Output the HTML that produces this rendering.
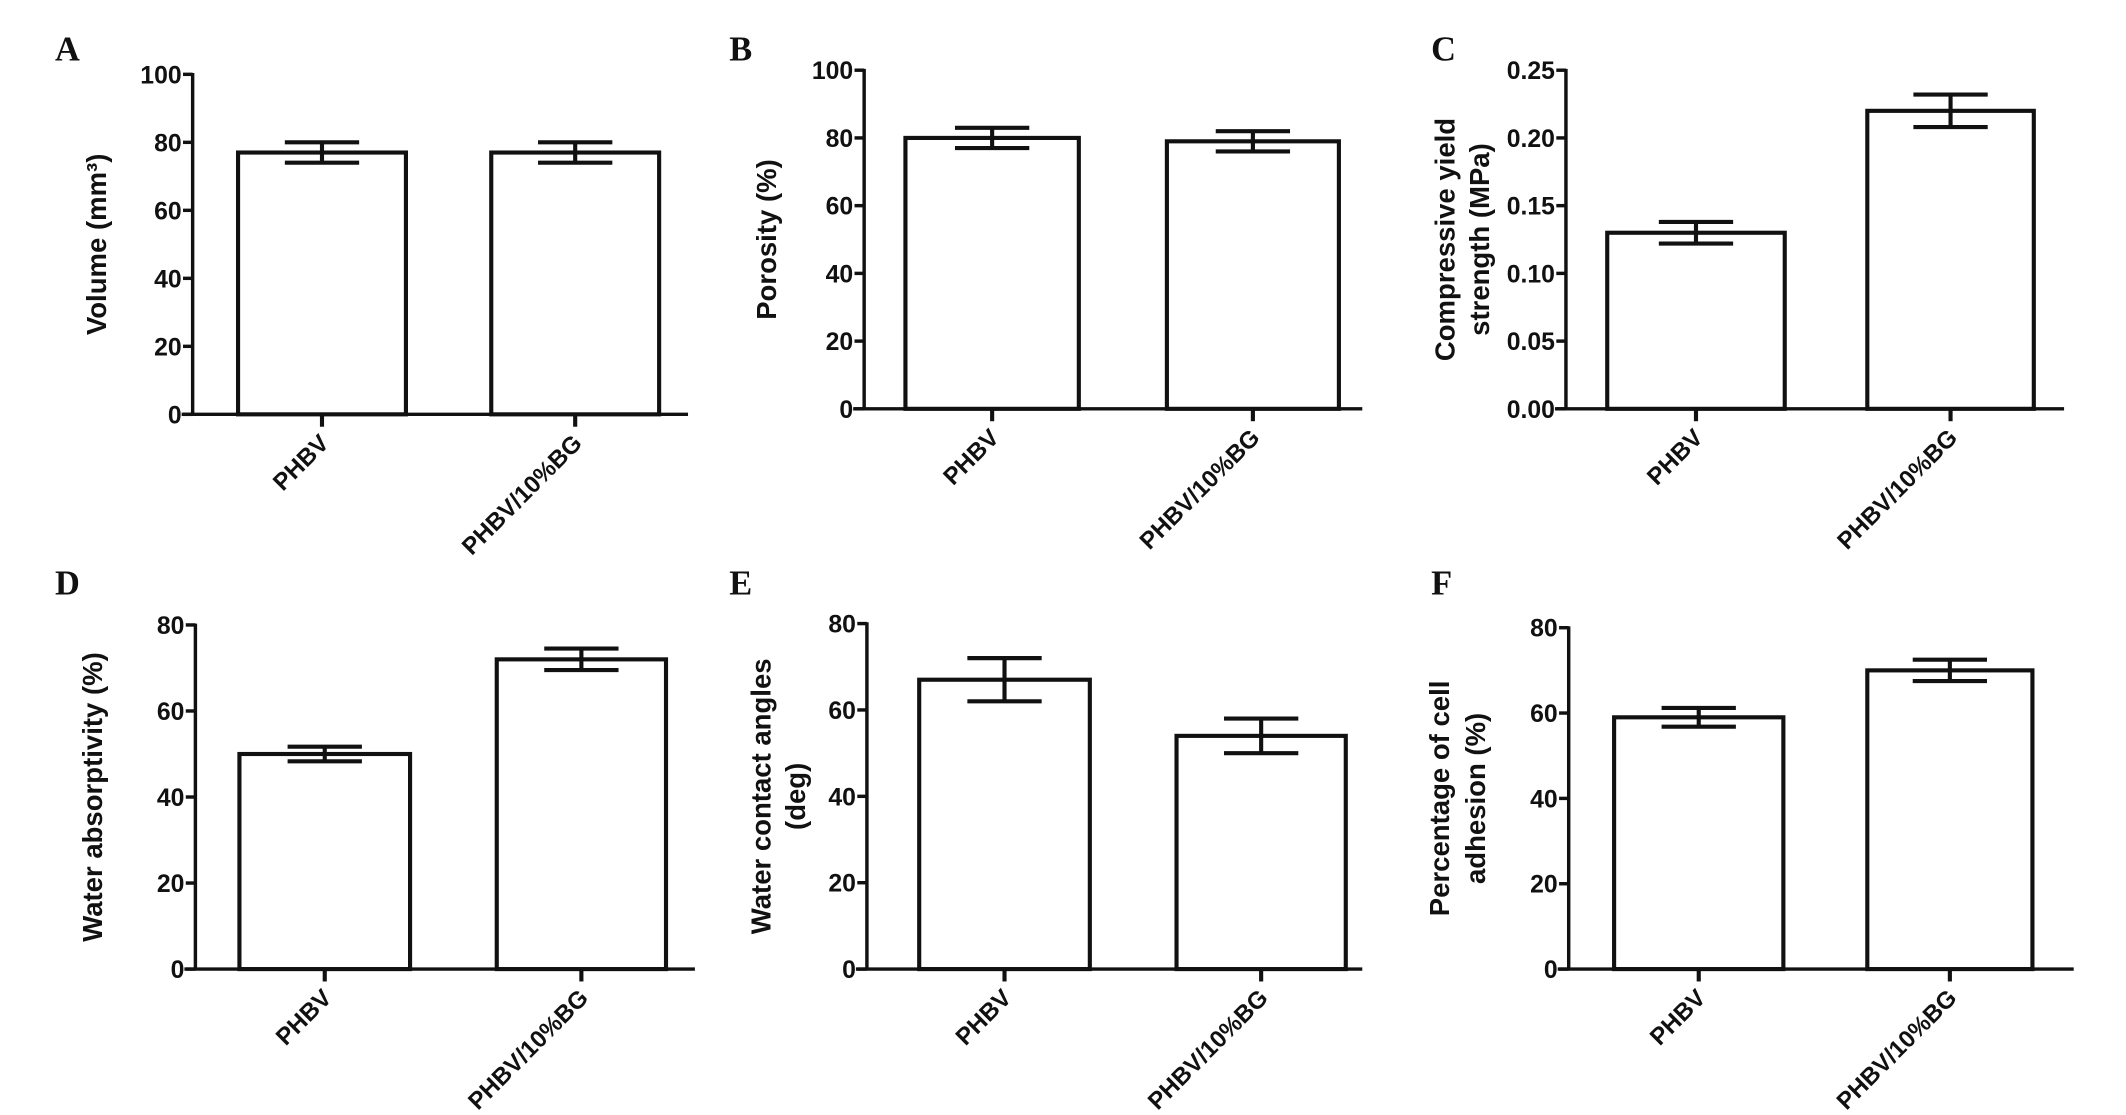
<!DOCTYPE html>
<html><head><meta charset="utf-8"><style>
html,body{margin:0;padding:0;background:#fff;}
svg{display:block;}
text{font-family:"Liberation Sans",Arial,sans-serif;font-weight:bold;fill:#111;}
.lt{font-family:"Liberation Serif","Times New Roman",serif;font-size:25px;}
</style></head><body>
<svg id="fig" width="2126" height="1115" viewBox="0 0 1545 810" preserveAspectRatio="none" xmlns="http://www.w3.org/2000/svg"></svg>
<script>
const categories = ["PHBV", "PHBV/10%BG"];
const volumeMeans = [77, 77];
const volumeErr = [3, 3];
const porosityMeans = [80, 79];
const porosityErr = [3, 3];
const strengthMeans = [0.130, 0.220];
const strengthErr = [0.008, 0.012];
const absorbMeans = [50, 72];
const absorbErr = [1.7, 2.5];
const angleMeans = [67, 54];
const angleErr = [5, 4];
const adhesionMeans = [59, 70];
const adhesionErr = [2.2, 2.5];
const ticks100 = [0, 20, 40, 60, 80, 100];
const ticks80 = [0, 20, 40, 60, 80];
const ticksStrength = ["0.00", "0.05", "0.10", "0.15", "0.20", "0.25"];

const NS = "http://www.w3.org/2000/svg";
const svg = document.getElementById("fig");
function mk(tag, attrs, parent) {
  const e = document.createElementNS(NS, tag);
  for (const k in attrs) e.setAttribute(k, attrs[k]);
  (parent || svg).appendChild(e);
  return e;
}
const panels = [
  {id:"a", letter:"A", lx:40, ly:44, ax:140, y0:301, yt:54, max:100, xend:500, bars:[[173,295],[357,479]], means:volumeMeans, err:volumeErr, ticks:ticks100, title:["Volume (mm³)"], tx:[70]},
  {id:"b", letter:"B", lx:530, ly:44, ax:628, y0:297, yt:51, max:100, xend:990, bars:[[658,784],[848,973]], means:porosityMeans, err:porosityErr, ticks:ticks100, title:["Porosity (%)"], tx:[557]},
  {id:"c", letter:"C", lx:1040, ly:44, ax:1138, y0:297, yt:51, max:0.25, xend:1500, bars:[[1168,1297],[1357,1478]], means:strengthMeans, err:strengthErr, ticks:ticksStrength, title:["Compressive yield","strength (MPa)"], tx:[1050,1075]},
  {id:"d", letter:"D", lx:40, ly:432, ax:142, y0:704, yt:454, max:80, xend:505, bars:[[174,298],[361,484]], means:absorbMeans, err:absorbErr, ticks:ticks80, title:["Water absorptivity (%)"], tx:[67]},
  {id:"e", letter:"E", lx:530, ly:432, ax:630, y0:704, yt:453, max:80, xend:990, bars:[[668,792],[855,978]], means:angleMeans, err:angleErr, ticks:ticks80, title:["Water contact angles","(deg)"], tx:[553,578]},
  {id:"f", letter:"F", lx:1040, ly:432, ax:1140, y0:704, yt:456, max:80, xend:1507, bars:[[1173,1296],[1357,1477]], means:adhesionMeans, err:adhesionErr, ticks:ticks80, title:["Percentage of cell","adhesion (%)"], tx:[1046,1072]}
];
panels.forEach(p => {
  const g = mk("g", {});
  
  
  const y = v => p.y0 - (v / p.max) * (p.y0 - p.yt);
  const L = mk("text", {x:p.lx, y:p.ly, class:"lt"}, g); L.textContent = p.letter;
  
  
  p.bars.forEach((b, i) => {
    const top = y(p.means[i]);
    const r = mk("rect", {x:b[0], y:top, width:b[1]-b[0], height:p.y0-top, fill:"#fff", stroke:"#111", "stroke-width":3}, g);
    
    
    const cx = (b[0]+b[1])/2;
    const hi = y(p.means[i] + p.err[i]), lo = y(p.means[i] - p.err[i]);
    const eb = mk("g", {stroke:"#111", "stroke-width":3, fill:"none"}, g);
    
    
    mk("line", {x1:cx, x2:cx, y1:hi, y2:lo}, eb);
    mk("line", {x1:cx-27, x2:cx+27, y1:hi, y2:hi}, eb);
    mk("line", {x1:cx-27, x2:cx+27, y1:lo, y2:lo}, eb);
    mk("line", {x1:cx, x2:cx, y1:p.y0, y2:p.y0+9}, eb);
    const t = mk("text", {x:cx+6, y:p.y0+22, "text-anchor":"end", "font-size":17.5, transform:`rotate(-45 ${cx+6} ${p.y0+22})`}, g);
    t.textContent = categories[i];
    
    
  });
  const ax = mk("g", {stroke:"#111", "stroke-width":2.5}, g);
  
  
  mk("line", {x1:p.ax, x2:p.ax, y1:p.yt-1, y2:p.y0}, ax);
  mk("line", {x1:p.ax-8, x2:p.xend, y1:p.y0, y2:p.y0}, ax);
  p.ticks.forEach(tv => {
    const v = parseFloat(tv);
    const ty = y(v);
    mk("line", {x1:p.ax-7, x2:p.ax, y1:ty, y2:ty}, ax);
    const t = mk("text", {x:p.ax-8, y:ty+6.5, "text-anchor":"end", "font-size":18}, g);
    t.textContent = tv;
    
    
  });
  const mid = (p.y0 + p.yt)/2;
  p.title.forEach((line, k) => {
    const t = mk("text", {x:p.tx[k]+7, y:mid, "text-anchor":"middle", "font-size":20, transform:`rotate(-90 ${p.tx[k]+7} ${mid})`}, g);
    t.textContent = line;
    
    
  });
});
</script>
</body></html>
